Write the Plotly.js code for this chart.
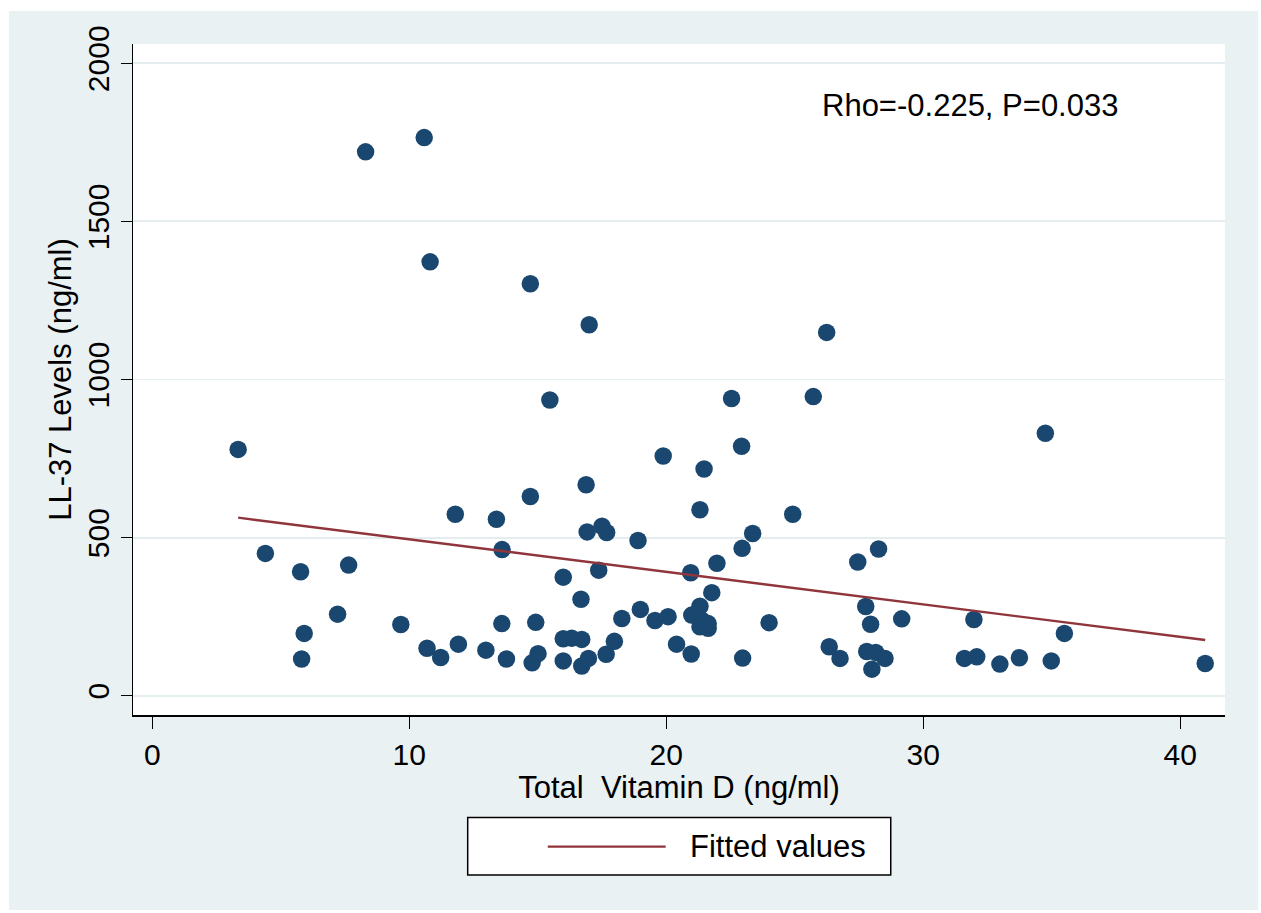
<!DOCTYPE html>
<html>
<head>
<meta charset="utf-8">
<script src="https://cdn.plot.ly/plotly-3.0.1.min.js"></script>
<style>
  html, body { margin: 0; padding: 0; background: #ffffff; }
  #chart { position: absolute; left: 9px; top: 11px; width: 1249px; height: 899px; }
</style>
</head>
<body>
<div id="chart"></div>
<script>
// Total Vitamin D (ng/ml)
const vitaminD = [
  3.34, 4.40, 5.77, 5.91, 5.81, 7.64, 7.21, 8.30, 9.67, 10.58,
  10.81, 10.69, 11.22, 11.91, 11.79, 13.39, 13.61, 13.60, 12.98, 13.78,
  14.71, 14.71, 14.92, 14.78, 15.01, 15.47, 15.99, 15.99, 16.32, 16.71,
  15.99, 16.71, 16.97, 16.68, 16.88, 16.92, 17.00, 17.37, 17.50, 17.68,
  17.66, 17.98, 18.27, 18.90, 18.99, 19.56, 19.88, 20.07, 20.40, 20.95,
  20.97, 20.99, 21.31, 21.31, 21.47, 21.38, 21.63, 21.31, 21.63, 21.77,
  21.97, 22.54, 22.93, 22.95, 22.97, 23.36, 24.00, 24.92, 25.72, 26.24,
  26.34, 26.76, 27.45, 27.76, 27.95, 27.80, 28.15, 28.00, 28.51, 28.26,
  29.16, 31.97, 31.60, 32.08, 32.98, 33.74, 34.75, 34.98, 35.49, 40.97
];
// LL-37 Levels (ng/ml)
const ll37 = [
  779, 450, 392, 197, 116, 413, 258, 1720, 225, 1765,
  1372, 150, 121, 163, 574, 558, 462, 228, 144, 116,
  1303, 630, 232, 104, 133, 935, 375, 180, 182, 178,
  110, 94, 118, 305, 667, 518, 1173, 397, 536, 516,
  131, 172, 244, 491, 273, 238, 758, 250, 163, 389,
  132, 255, 588, 283, 717, 239, 228, 218, 213, 326,
  419, 940, 789, 466, 119, 513, 231, 574, 946, 1149,
  155, 118, 423, 282, 226, 140, 137, 84, 118, 464,
  243, 241, 118, 123, 100, 120, 830, 110, 197, 102
];
// Fitted values (linear fit endpoints)
const fitX = [3.34, 40.97];
const fitY = [563, 176];

const xTicks = [0, 10, 20, 30, 40];
const yTicks = [0, 500, 1000, 1500, 2000];
const xTitle = 'Total  Vitamin D (ng/ml)';
const yTitle = 'LL-37 Levels (ng/ml)';
const statText = 'Rho=-0.225, P=0.033';
const legendLabel = 'Fitted values';

const FONT = 'Arial, "Liberation Sans", Helvetica, sans-serif';
const NAVY = '#1a476f';
const MAROON = '#90353b';
const BG = '#eaf1f3';

const traces = [
  {
    x: vitaminD, y: ll37, type: 'scatter', mode: 'markers', name: 'LL-37',
    marker: { color: NAVY, size: 17.5, line: { width: 0 } },
    showlegend: false, hoverinfo: 'skip'
  },
  {
    x: fitX, y: fitY, type: 'scatter', mode: 'lines', name: legendLabel,
    line: { color: MAROON, width: 2.4 },
    showlegend: false, hoverinfo: 'skip'
  }
];

const layout = {
  width: 1249, height: 899,
  paper_bgcolor: BG, plot_bgcolor: '#ffffff',
  margin: { l: 124, r: 33, t: 32.5, b: 195, pad: 0 },
  showlegend: false,
  font: { family: FONT, color: '#000000', size: 30 },
  xaxis: {
    range: [-0.751, 41.74], tickvals: xTicks, ticktext: xTicks.map(String),
    ticks: 'outside', ticklen: 12, tickwidth: 1.3, tickcolor: '#000',
    showline: true, linecolor: '#000', linewidth: 1.5, mirror: false,
    showgrid: false, zeroline: false,
    tickfont: { family: FONT, size: 30, color: '#000' },
    title: { text: xTitle, font: { family: FONT, size: 31, color: '#000' }, standoff: 4 }
  },
  yaxis: {
    range: [-61, 2061], tickvals: yTicks, ticktext: yTicks.map(String),
    ticks: 'outside', ticklen: 11, tickwidth: 1.3, tickcolor: '#000',
    tickangle: -90,
    showline: true, linecolor: '#000', linewidth: 1.5, mirror: false,
    showgrid: true, gridcolor: '#e4eef1', gridwidth: 1.8, zeroline: false,
    tickfont: { family: FONT, size: 30, color: '#000' },
    title: { text: yTitle, font: { family: FONT, size: 31, color: '#000' }, standoff: 0 }
  },
  annotations: [
    {
      text: statText, xref: 'x', yref: 'y', x: 25.98, y: 1867,
      xanchor: 'left', yanchor: 'middle', showarrow: false,
      font: { family: FONT, size: 31, color: '#000' }
    },
    {
      text: legendLabel, xref: 'paper', yref: 'paper', x: 0.5082, y: -0.1955,
      xanchor: 'left', yanchor: 'middle', showarrow: false,
      font: { family: FONT, size: 31, color: '#000' }
    }
  ],
  shapes: [
    {
      type: 'rect', xref: 'paper', yref: 'paper',
      x0: 0.3065, x1: 0.6939, y0: -0.2383, y1: -0.1529,
      line: { color: '#000', width: 1.5 }, fillcolor: '#ffffff', layer: 'above'
    },
    {
      type: 'line', xref: 'paper', yref: 'paper',
      x0: 0.3798, x1: 0.4878, y0: -0.1961, y1: -0.1961,
      line: { color: MAROON, width: 2.4 }, layer: 'above'
    }
  ]
};

Plotly.newPlot('chart', traces, layout, { staticPlot: true, displayModeBar: false, responsive: false });
</script>
</body>
</html>
